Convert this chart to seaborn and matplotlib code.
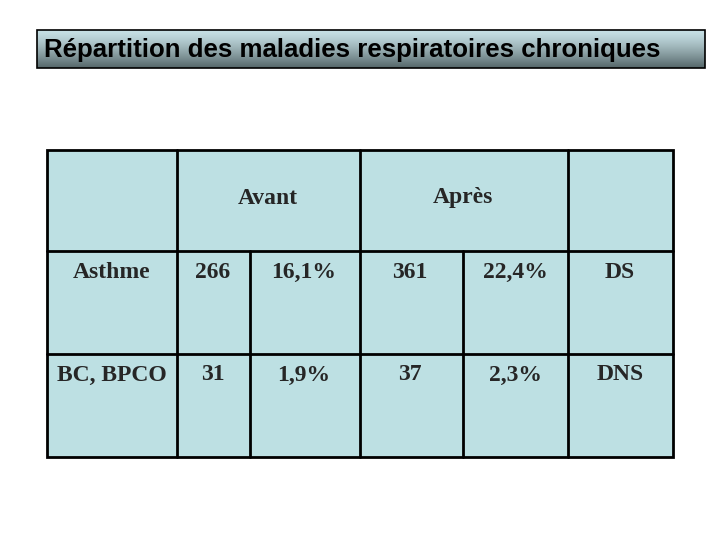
import matplotlib
matplotlib.use("Agg")
import matplotlib.pyplot as plt
import seaborn as sns
import numpy as np
from matplotlib.patches import Rectangle

title = "Répartition des maladies respiratoires chroniques"
headers = ["Avant", "Après"]
categories = ["Asthme", "BC, BPCO"]
avant_n = [266, 31]
avant_pct = ["16,1%", "1,9%"]
apres_n = [361, 37]
apres_pct = ["22,4%", "2,3%"]
signif = ["DS", "DNS"]

sns.set_theme(style="white")
fig = plt.figure(figsize=(7.2, 5.4), dpi=100)
ax = fig.add_axes([0, 0, 1, 1])
ax.set_xlim(0, 720); ax.set_ylim(540, 0); ax.axis("off")

# title bar with gradient
grad = np.linspace(0, 1, 100).reshape(-1, 1)
top = np.array([0.78, 0.88, 0.90]); bot = np.array([0.33, 0.40, 0.41])
img = top + (bot - top) * grad[..., None] ** 1.3
ax.imshow(img, extent=(37, 705, 68, 30), aspect="auto", zorder=1)
ax.add_patch(Rectangle((37, 30), 668, 38, fill=False, ec="black", lw=1.2, zorder=2))
ax.text(44, 50, title, fontsize=18.6, fontweight="bold", family="Liberation Sans",
        va="center", ha="left", color="black", zorder=3)

# table
x0, x1 = 47, 673
y0, y1 = 150, 457
cols = [47, 177, 250, 360, 463, 568, 673]
rows = [150, 251, 354, 457]
ax.add_patch(Rectangle((x0, y0), x1 - x0, y1 - y0, fc="#bde0e3", ec="black", lw=2, zorder=1))
for r in rows[1:-1]:
    ax.plot([x0, x1], [r, r], color="black", lw=2)
for c in cols[1:-1]:
    ystart = rows[1] if c in (250, 463) else y0
    ax.plot([c, c], [ystart, y1], color="black", lw=2)

fkw = dict(fontsize=17, fontweight="bold", family="Liberation Serif", va="center")
ax.text(268, 198, headers[0], ha="center", **fkw)
ax.text(463, 198, headers[1], ha="center", **fkw)
ys = [272, 375]
xs = [112, 213, 304, 410, 515, 620]
for i in range(2):
    vals = [categories[i], str(avant_n[i]), avant_pct[i], str(apres_n[i]), apres_pct[i], signif[i]]
    for x, v in zip(xs, vals):
        ax.text(x, ys[i], v, ha="center", **fkw)

fig.savefig("out.png", dpi=100)
